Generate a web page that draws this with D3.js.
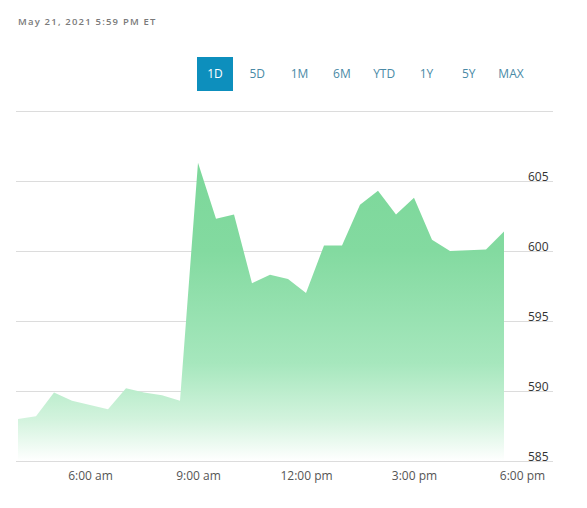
<!DOCTYPE html>
<html>
<head>
<meta charset="utf-8">
<script src="https://cdn.jsdelivr.net/npm/d3@7"></script>
<style>
  body { margin: 0; background: #fff; font-family: "Open Sans", sans-serif; }
  svg { display: block; }
</style>
</head>
<body>
<div id="chart"></div>
<script>
// half-hour closes, 4:00 am .. 5:30 pm
const startTime = "2021-05-21T04:00:00";
const prices = [
    588.0, 588.2, 589.9, 589.3, 589.0, 588.7, 590.2, 589.9, 589.7, 589.3,
    606.3, 602.3, 602.6, 597.7, 598.3, 598.0, 597.0, 600.4, 600.4, 603.3,
    604.3, 602.6, 603.8, 600.8, 600.0, 600.05, 600.1, 601.4
];
const priceTicks = [585, 590, 595, 600, 605];
const gridValues = [585, 590, 595, 600, 605, 610];
const timeTicks = ["06:00", "09:00", "12:00", "15:00", "18:00"];
const ranges = ["1D", "5D", "1M", "6M", "YTD", "1Y", "5Y", "MAX"];
const stampText = "May 21, 2021 5:59 PM ET";

const width = 587, height = 508;

const t0 = new Date(startTime);
const data = prices.map((p, i) => ({ date: new Date(t0.getTime() + i * 30 * 60000), price: p }));
const day = d => new Date("2021-05-21T" + d + ":00");

const x = d3.scaleTime()
    .domain([day("04:00"), day("18:00")])
    .range([18, 522]);

const y = d3.scaleLinear()
    .domain([585, 610])
    .range([461, 111]);

const svg = d3.select("#chart").append("svg")
    .attr("width", width)
    .attr("height", height);

// timestamp
svg.append("text")
    .attr("x", 18)
    .attr("y", 25)
    .attr("fill", "#7a7a7a")
    .attr("font-size", 9.5)
    .attr("font-weight", 600)
    .attr("letter-spacing", 1.2)
    .text(stampText);

// range buttons
const btnX = d3.scalePoint().domain(ranges).range([215, 511]);
const btns = svg.append("g").selectAll("g").data(ranges).join("g")
    .attr("transform", d => `translate(${btnX(d)},74)`);
btns.filter(d => d === "1D").append("rect")
    .attr("x", -18).attr("y", -17)
    .attr("width", 36).attr("height", 34)
    .attr("fill", "#0d8fbd");
btns.append("text")
    .attr("text-anchor", "middle")
    .attr("dy", "0.35em")
    .attr("font-size", 12)
    .attr("fill", d => d === "1D" ? "#fff" : "#4a8aa6")
    .text(d => d);

// gradient fill
const grad = svg.append("defs").append("linearGradient")
    .attr("id", "fillGrad")
    .attr("gradientUnits", "userSpaceOnUse")
    .attr("x1", 0).attr("x2", 0)
    .attr("y1", y(610)).attr("y2", y(585));
grad.selectAll("stop").data([
    [0, "#78d696"], [0.4, "#83daa0"], [0.72, "#a6e7bd"], [0.88, "#d2f3dd"], [1, "#ffffff"]
]).join("stop")
    .attr("offset", d => d[0])
    .attr("stop-color", d => d[1]);

// grid
svg.append("g").selectAll("line").data(gridValues).join("line")
    .attr("x1", 16).attr("x2", 553)
    .attr("y1", d => Math.round(y(d)) + 0.5)
    .attr("y2", d => Math.round(y(d)) + 0.5)
    .attr("stroke", "#dcdcdc");

const area = d3.area()
    .x(d => x(d.date))
    .y0(y(585))
    .y1(d => y(d.price));

svg.append("path")
    .datum(data)
    .attr("d", area)
    .attr("fill", "url(#fillGrad)");

// redraw the baseline over the fill
svg.append("line")
    .attr("x1", 16).attr("x2", 553)
    .attr("y1", Math.round(y(585)) + 0.5).attr("y2", Math.round(y(585)) + 0.5)
    .attr("stroke", "#dcdcdc");

// y labels
const yAxis = svg.append("g")
    .attr("transform", "translate(528,0)")
    .call(d3.axisRight(y).tickValues(priceTicks).tickSize(0).tickPadding(0));
yAxis.select(".domain").remove();
yAxis.selectAll("text")
    .attr("dy", "-0.05em")
    .attr("font-family", "Open Sans, sans-serif")
    .attr("font-size", 12)
    .attr("fill", "#333");

// x labels
const xAxis = svg.append("g")
    .attr("transform", `translate(0,${y(585)})`)
    .call(d3.axisBottom(x)
        .tickValues(timeTicks.map(day))
        .tickSize(0)
        .tickPadding(10)
        .tickFormat(d => d3.timeFormat("%-I:%M %p")(d).toLowerCase()));
xAxis.select(".domain").remove();
xAxis.selectAll("text")
    .attr("font-family", "Open Sans, sans-serif")
    .attr("font-size", 12)
    .attr("fill", "#555");
</script>
</body>
</html>
